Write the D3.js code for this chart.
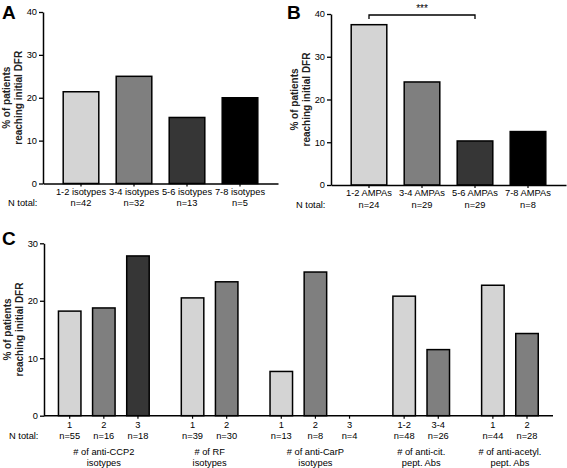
<!DOCTYPE html>
<html><head><meta charset="utf-8">
<script src="https://cdn.jsdelivr.net/npm/d3@7"></script>
<style>
body{margin:0;background:#fff;}
svg{display:block;font-family:"Liberation Sans",Arial,sans-serif;}
</style></head>
<body>
<svg id="chart" width="567" height="468"></svg>
<script>
// ---------- DATA ----------
const aCategories = ["1-2 isotypes", "3-4 isotypes", "5-6 isotypes", "7-8 isotypes"];
const aTotals = ["n=42", "n=32", "n=13", "n=5"];
const aValues = [21.4, 25.0, 15.4, 20.0];

const bCategories = ["1-2 AMPAs", "3-4 AMPAs", "5-6 AMPAs", "7-8 AMPAs"];
const bTotals = ["n=24", "n=29", "n=29", "n=8"];
const bValues = [37.5, 24.1, 10.3, 12.5];

const cGroups = [["# of anti-CCP2", "isotypes"], ["# of RF", "isotypes"], ["# of anti-CarP", "isotypes"], ["# of anti-cit.", "pept. Abs"], ["# of anti-acetyl.", "pept. Abs"]];
const cCategories = ["1", "2", "3", "1", "2", "1", "2", "3", "1-2", "3-4", "1", "2"];
const cTotals = ["n=55", "n=16", "n=18", "n=39", "n=30", "n=13", "n=8", "n=4", "n=48", "n=26", "n=44", "n=28"];
const cValues = [18.2, 18.75, 27.8, 20.5, 23.3, 7.7, 25.0, 0, 20.8, 11.5, 22.7, 14.3];
const cGroupOf = [0, 0, 0, 1, 1, 2, 2, 2, 3, 3, 4, 4];
const cShade = [0, 1, 2, 0, 1, 0, 1, 2, 0, 1, 0, 1];

const abTicks = [0, 10, 20, 30, 40];
const cTicks = [0, 10, 20, 30];
const shades = ["#d4d4d4", "#7f7f7f", "#363636", "#000000"];
const yLabel = ["% of patients", "reaching initial DFR"];

// ---------- DRAW ----------
const svg = d3.select("#chart");
const FS = 9.3;

function yAxis(g, y, ticks, x0) {
  const ax = g.append("g").attr("transform", `translate(${x0},0)`)
    .call(d3.axisLeft(y).tickValues(ticks).tickSize(4).tickPadding(2).tickSizeOuter(0));
  ax.select(".domain").attr("stroke", "#000").attr("stroke-width", 1.5);
  ax.selectAll(".tick line").attr("stroke", "#000").attr("stroke-width", 1.3);
  ax.selectAll("text").attr("font-size", FS).attr("fill", "#000").attr("font-family", "Liberation Sans, Arial, sans-serif");
}

function yTitle(g, cx, cy) {
  const t = g.append("text").attr("transform", `translate(${cx},${cy}) rotate(-90)`)
    .attr("text-anchor", "middle").attr("font-size", 10).attr("font-weight", "bold").attr("fill", "#222");
  t.append("tspan").attr("x", 0).attr("dy", 0).text(yLabel[0]);
  t.append("tspan").attr("x", 0).attr("dy", 11.5).text(yLabel[1]);
}

function panelLetter(txt, x, y) {
  svg.append("text").attr("x", x).attr("y", y).attr("font-size", 19).attr("font-weight", "bold").text(txt);
}

function simplePanel(cats, totals, vals, opt) {
  const g = svg.append("g");
  const x = d3.scaleBand().domain(cats).range([opt.x0, opt.x1]).paddingInner(0.3).paddingOuter(0.367);
  const y = d3.scaleLinear().domain([0, 40]).range([opt.yb, opt.yt]);
  g.selectAll("rect").data(vals).join("rect")
    .attr("x", (d, i) => x(cats[i]) + 0.75).attr("width", x.bandwidth() - 1.5)
    .attr("y", d => y(d)).attr("height", d => y(0) - y(d))
    .attr("fill", (d, i) => shades[i]).attr("stroke", "#000").attr("stroke-width", 1.5);
  const xa = g.append("g").attr("transform", `translate(0,${opt.yb})`)
    .call(d3.axisBottom(x).tickSize(3).tickSizeOuter(0).tickPadding(1.5));
  xa.select(".domain").attr("stroke", "#000").attr("stroke-width", 1.5);
  xa.selectAll(".tick line").attr("stroke", "#000").attr("stroke-width", 1.2);
  xa.selectAll("text").attr("font-size", FS).attr("fill", "#000").attr("font-family", "Liberation Sans, Arial, sans-serif");
  g.append("g").selectAll("text").data(totals).join("text")
    .attr("x", (d, i) => x(cats[i]) + x.bandwidth() / 2).attr("y", opt.yb + 22.5)
    .attr("text-anchor", "middle").attr("font-size", FS).text(d => d);
  g.append("text").attr("x", opt.x0 - 35).attr("y", opt.yb + 22.5).attr("font-size", FS).text("N total:");
  yAxis(g, y, abTicks, opt.x0);
  yTitle(g, opt.x0 - 33, (opt.yb + opt.yt) / 2);
  return { g, x, y };
}

panelLetter("A", 2, 19);
simplePanel(aCategories, aTotals, aValues, { x0: 43, x1: 278, yb: 183.5, yt: 12 });

panelLetter("B", 287, 19);
const pb = simplePanel(bCategories, bTotals, bValues, { x0: 331, x1: 566, yb: 185, yt: 14 });
{
  const xa = pb.x(bCategories[0]) + pb.x.bandwidth() / 2;
  const xb = pb.x(bCategories[2]) + pb.x.bandwidth() / 2;
  const yy = 15;
  pb.g.append("path").attr("d", `M${xa},${yy + 4}V${yy}H${xb}V${yy + 4}`)
    .attr("fill", "none").attr("stroke", "#000").attr("stroke-width", 1.3);
  pb.g.append("text").attr("x", (xa + xb) / 2).attr("y", 12).attr("text-anchor", "middle")
    .attr("font-size", 10).text("***");
}

// Panel C
panelLetter("C", 2, 245);
{
  const g = svg.append("g");
  const gap = 0.6;
  const slot = cCategories.map((d, i) => i + cGroupOf[i] * gap);
  const x = d3.scaleLinear().domain([0, slot[slot.length - 1]]).range([69.7, 527]);
  const bw = 24;
  const y = d3.scaleLinear().domain([0, 30]).range([415.7, 243.3]);
  const x0 = 44, x1 = 553;
  const bars = cValues.map((v, i) => ({ v, i })).filter(d => d.v > 0);
  g.selectAll("rect").data(bars).join("rect")
    .attr("x", d => x(slot[d.i]) - bw / 2 + 0.75).attr("width", bw - 1.5)
    .attr("y", d => y(d.v)).attr("height", d => y(0) - y(d.v))
    .attr("fill", d => shades[cShade[d.i]]).attr("stroke", "#000").attr("stroke-width", 1.5);
  g.append("line").attr("x1", x0).attr("x2", x1).attr("y1", y(0)).attr("y2", y(0))
    .attr("stroke", "#000").attr("stroke-width", 1.5);
  g.selectAll("line.xt").data(slot).join("line").attr("class", "xt")
    .attr("x1", d => x(d)).attr("x2", d => x(d)).attr("y1", y(0)).attr("y2", y(0) + 3)
    .attr("stroke", "#000").attr("stroke-width", 1.2);
  g.selectAll("text.cat").data(cCategories).join("text").attr("class", "cat")
    .attr("x", (d, i) => x(slot[i])).attr("y", y(0) + 12.5).attr("text-anchor", "middle")
    .attr("font-size", FS).text(d => d);
  g.selectAll("text.tot").data(cTotals).join("text").attr("class", "tot")
    .attr("x", (d, i) => x(slot[i])).attr("y", y(0) + 23).attr("text-anchor", "middle")
    .attr("font-size", FS).text(d => d);
  g.append("text").attr("x", x0 - 35).attr("y", y(0) + 23).attr("font-size", FS).text("N total:");
  cGroups.forEach((lines, gi) => {
    const idx = cGroupOf.map((v, i) => v === gi ? i : -1).filter(i => i >= 0);
    const cx = (x(slot[idx[0]]) + x(slot[idx[idx.length - 1]])) / 2;
    const t = g.append("text").attr("x", cx).attr("y", y(0) + 39).attr("text-anchor", "middle").attr("font-size", FS);
    t.append("tspan").attr("x", cx).text(lines[0]);
    t.append("tspan").attr("x", cx).attr("dy", 11).text(lines[1]);
  });
  yAxis(g, y, cTicks, x0);
  yTitle(g, x0 - 33, (y(0) + y(30)) / 2);
}
</script>
</body></html>
